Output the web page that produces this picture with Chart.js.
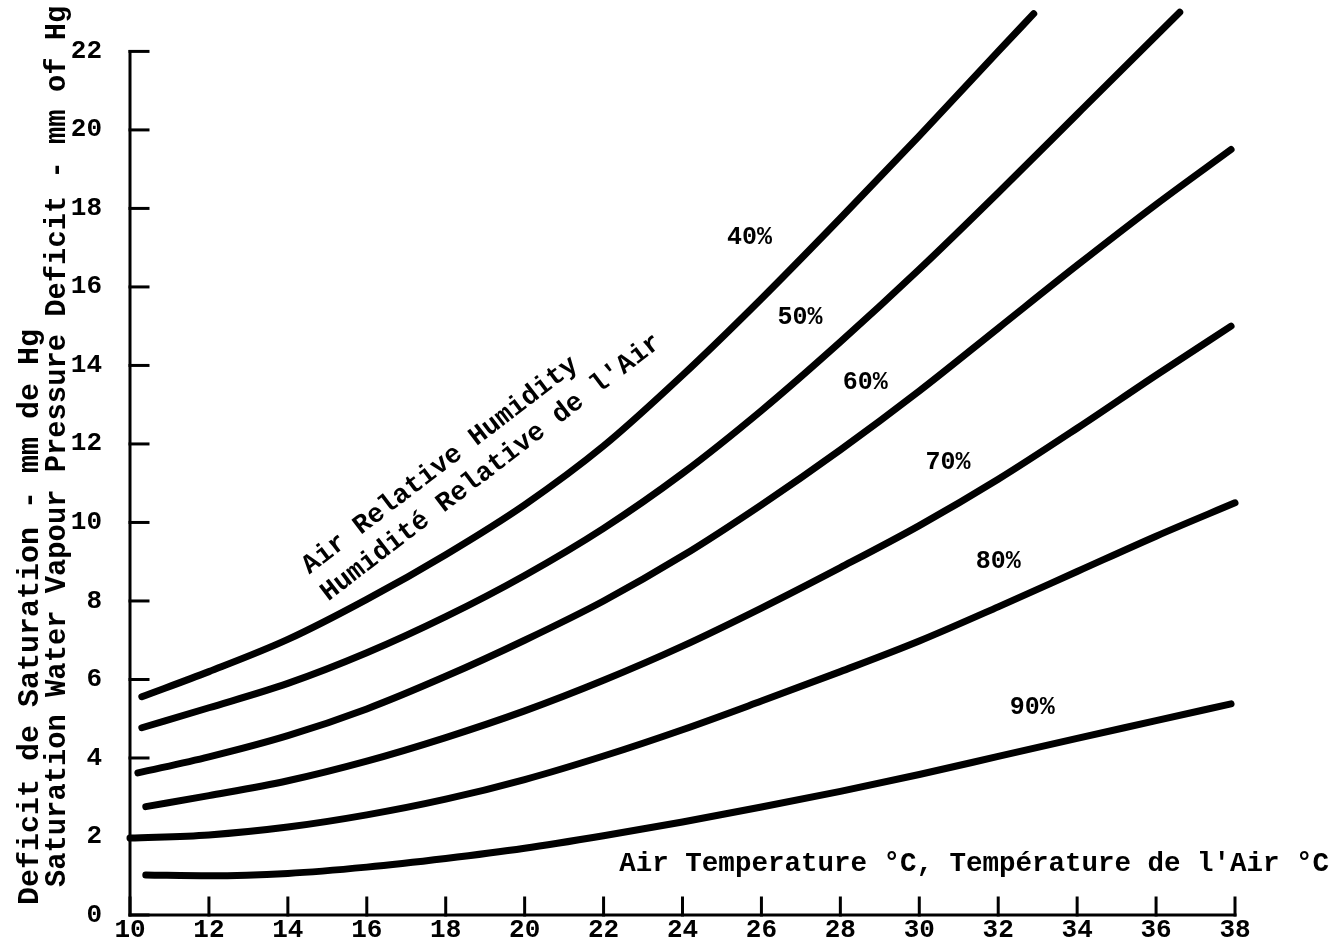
<!DOCTYPE html>
<html>
<head>
<meta charset="utf-8">
<title>Saturation Water Vapour Pressure Deficit</title>
<script src="https://cdn.jsdelivr.net/npm/chart.js@4.4.1/dist/chart.umd.min.js"></script>
<style>
  html, body { margin: 0; padding: 0; background: #fff; }
  #wrap { width: 1329px; height: 942px; position: relative; }
</style>
</head>
<body>
<div id="wrap"><canvas id="deficitChart"></canvas></div>
<script>
// Air temperature (deg C) and saturation deficit (mm Hg)
const t40 = [10.3, 12, 14, 16, 18, 20, 22, 24, 26, 28, 30, 32, 32.9];
const d40 = [5.56, 6.2, 7.02, 8.04, 9.18, 10.45, 11.95, 13.75, 15.7, 17.75, 19.85, 22.0, 22.96];

const t50 = [10.3, 12, 14, 16, 18, 20, 22, 24, 26, 28, 30, 32, 34, 36, 36.6];
const d50 = [4.77, 5.28, 5.9, 6.68, 7.6, 8.65, 9.85, 11.25, 12.85, 14.6, 16.45, 18.4, 20.4, 22.4, 23.0];

const t60 = [10.2, 12, 14, 16, 18, 20, 22, 24, 26, 28, 30, 32, 34, 36, 37.9];
const d60 = [3.62, 4.03, 4.57, 5.25, 6.08, 7.0, 8.0, 9.15, 10.45, 11.85, 13.35, 14.95, 16.55, 18.1, 19.5];

const t70 = [10.4, 12, 14, 16, 18, 20, 22, 24, 26, 28, 30, 32, 34, 36, 37.9];
const d70 = [2.76, 3.04, 3.42, 3.92, 4.52, 5.2, 5.98, 6.85, 7.82, 8.85, 9.92, 11.1, 12.4, 13.75, 15.0];

const t80 = [10.0, 12, 14, 16, 18, 20, 22, 24, 26, 28, 30, 32, 34, 36, 38];
const d80 = [1.96, 2.04, 2.24, 2.55, 2.95, 3.45, 4.05, 4.72, 5.45, 6.2, 6.98, 7.85, 8.75, 9.65, 10.5];

const t90 = [10.4, 12, 14, 16, 18, 20, 22, 24, 26, 28, 30, 32, 34, 36, 37.9];
const d90 = [1.02, 1.0, 1.06, 1.22, 1.44, 1.7, 2.02, 2.37, 2.75, 3.15, 3.58, 4.04, 4.5, 4.95, 5.38];

const humidityLabels = ['40%', '50%', '60%', '70%', '80%', '90%'];
const xTicks = [10, 12, 14, 16, 18, 20, 22, 24, 26, 28, 30, 32, 34, 36, 38];
const yTicks = [0, 2, 4, 6, 8, 10, 12, 14, 16, 18, 20, 22];

const FONT = '"Liberation Mono", "DejaVu Sans Mono", monospace';

function toPoints(ts, ds) {
  return ts.map((t, i) => ({ x: t, y: ds[i] }));
}

const series = [[t40, d40], [t50, d50], [t60, d60], [t70, d70], [t80, d80], [t90, d90]];

const data = {
  datasets: series.map((s, i) => ({
    label: humidityLabels[i],
    data: toPoints(s[0], s[1]),
    borderColor: '#000',
    borderWidth: 7,
    borderCapStyle: 'round',
    borderJoinStyle: 'round',
    pointRadius: 0,
    cubicInterpolationMode: 'monotone',
    clip: false
  }))
};

// where the curve names sit, in data units
const labelPos = [
  [25.7, 17.26], [26.98, 15.22], [28.63, 13.56],
  [30.73, 11.52], [32.0, 9.0], [32.86, 5.28]
];

const axesAndText = {
  id: 'axesAndText',
  afterDraw(chart) {
    const { ctx, scales: { x, y } } = chart;
    const x0 = x.getPixelForValue(10), x1 = x.getPixelForValue(38);
    const y0 = y.getPixelForValue(0), y1 = y.getPixelForValue(22);
    ctx.save();
    ctx.strokeStyle = '#000';
    ctx.lineCap = 'square';
    ctx.lineWidth = 3;
    ctx.beginPath();
    ctx.moveTo(x0, y1); ctx.lineTo(x0, y0); ctx.lineTo(x1, y0);
    ctx.stroke();

    // inward tick marks
    xTicks.forEach(v => {
      const px = x.getPixelForValue(v);
      ctx.beginPath(); ctx.moveTo(px, y0); ctx.lineTo(px, y0 - 17); ctx.stroke();
    });
    yTicks.forEach(v => {
      const py = y.getPixelForValue(v);
      ctx.beginPath(); ctx.moveTo(x0, py); ctx.lineTo(x0 + 18, py); ctx.stroke();
    });

    ctx.fillStyle = '#000';
    ctx.textBaseline = 'middle';

    // curve labels
    ctx.font = 'bold 25px ' + FONT;
    ctx.textAlign = 'center';
    humidityLabels.forEach((txt, i) => {
      ctx.fillText(txt, x.getPixelForValue(labelPos[i][0]), y.getPixelForValue(labelPos[i][1]));
    });

    // x axis title, inside the plot
    ctx.font = 'bold 27.5px ' + FONT;
    ctx.textAlign = 'left';
    ctx.fillText("Air Temperature \u00B0C, Temp\u00E9rature de l'Air \u00B0C",
      x.getPixelForValue(22.4), y.getPixelForValue(1.3));

    // slanted annotation
    ctx.font = 'bold 27px ' + FONT;
    ctx.textAlign = 'center';
    const ang = -37.5 * Math.PI / 180;
    [['Air Relative Humidity', 17.86, 11.45],
     ["Humidit\u00E9 Relative de l'Air", 19.15, 11.39]].forEach(([txt, vx, vy]) => {
      ctx.save();
      ctx.translate(x.getPixelForValue(vx), y.getPixelForValue(vy));
      ctx.rotate(ang);
      ctx.fillText(txt, 0, 0);
      ctx.restore();
    });

    // y axis titles, two lines
    ctx.textAlign = 'left';
    [['Deficit de Saturation - mm de Hg', 30, y0 - 10, 30],
     ['Saturation Water Vapour Pressure Deficit - mm of Hg', 58, y0 - 28, 28.8]].forEach(([txt, px, py, size]) => {
      ctx.font = 'bold ' + size + 'px ' + FONT;
      ctx.save();
      ctx.translate(px, py);
      ctx.rotate(-Math.PI / 2);
      ctx.fillText(txt, 0, 0);
      ctx.restore();
    });
    ctx.restore();
  }
};

const config = {
  type: 'line',
  data: data,
  options: {
    responsive: true,
    maintainAspectRatio: false,
    animation: false,
    layout: { padding: { left: 0, right: 94, top: 20, bottom: 0 } },
    plugins: {
      legend: { display: false },
      tooltip: { enabled: false }
    },
    scales: {
      x: {
        type: 'linear',
        min: 10,
        max: 38,
        grid: { display: false, drawTicks: false },
        border: { display: false },
        afterBuildTicks: scale => { scale.ticks = xTicks.map(v => ({ value: v })); },
        afterFit: scale => { scale.height = 27; },
        ticks: {
          padding: 0,
          color: '#000',
          maxRotation: 0,
          font: { family: FONT, size: 26, weight: 'bold' }
        }
      },
      y: {
        type: 'linear',
        min: 0,
        max: 22.8,
        grid: {
          display: true,
          drawOnChartArea: false,
          drawTicks: true,
          tickLength: 26,
          color: 'rgba(0,0,0,0)'
        },
        border: { display: false },
        afterBuildTicks: scale => { scale.ticks = yTicks.map(v => ({ value: v })); },
        afterFit: scale => { scale.width = 130; },
        ticks: {
          padding: 2,
          color: '#000',
          font: { family: FONT, size: 26, weight: 'bold' }
        }
      }
    }
  },
  plugins: [axesAndText]
};

const deficitChart = new Chart(document.getElementById('deficitChart'), config);
</script>
</body>
</html>
